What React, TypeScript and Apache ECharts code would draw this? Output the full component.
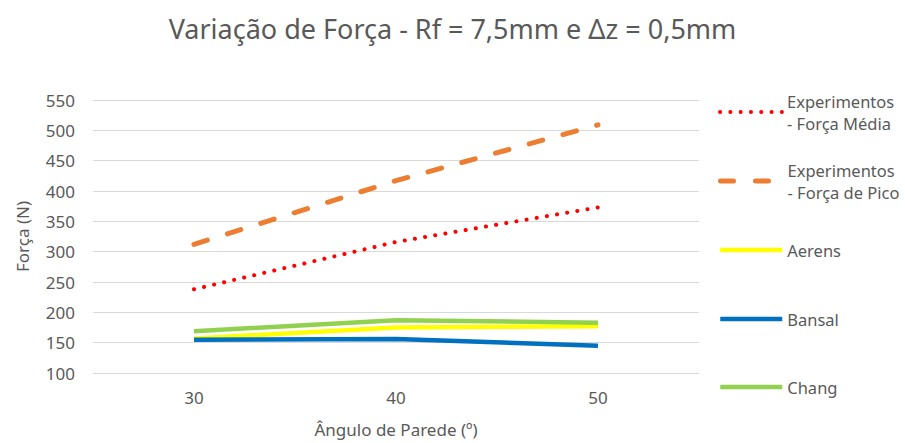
import React, { useEffect, useRef } from "react";
import * as echarts from "echarts";

// Wall angle categories (degrees)
const angles = ["30", "40", "50"];

// Force values (N) per model / experiment
const forcaMedia = [238, 316, 373];
const forcaPico = [312, 417, 509];
const aerens = [157, 175, 177];
const bansal = [155, 156, 145];
const chang = [169, 187, 183];

const seriesNames = [
  "Experimentos\n- Força Média",
  "Experimentos\n- Força de Pico",
  "Aerens",
  "Bansal",
  "Chang",
];

const FONT = "Noto Sans";
const GREY = "#595959";

// Line styling for each series: colour, width, dash pattern, cap
const styles: { color: string; width: number; type: any; cap: any }[] = [
  { color: "#FF0000", width: 4, type: [0.1, 10.2], cap: "round" },
  { color: "#ED7D31", width: 5, type: [14, 21], cap: "round" },
  { color: "#FFFF00", width: 4.5, type: "solid", cap: "butt" },
  { color: "#0070C0", width: 4.5, type: "solid", cap: "butt" },
  { color: "#92D050", width: 4.5, type: "solid", cap: "butt" },
];

export default function App() {
  const ref = useRef<HTMLDivElement>(null);

  useEffect(() => {
    if (!ref.current) return;
    document.body.style.margin = "0";
    const chart = echarts.init(ref.current, undefined, { renderer: "svg" });

    const legendCenters = [112, 181, 250, 319, 387];
    const legends = seriesNames.map((name, i) => {
      const twoLines = name.includes("\n");
      const s = styles[i];
      return {
        data: [name],
        left: 718,
        top: twoLines ? legendCenters[i] - 33 : legendCenters[i] - 11,
        padding: 0,
        itemWidth: 62,
        itemHeight: 14,
        selectedMode: false,
        itemStyle: { opacity: 0 },
        lineStyle: {
          color: s.color,
          width: s.width,
          type: i === 1 ? [13, 22] : s.type,
          cap: s.cap,
        },
        textStyle: {
          fontFamily: FONT,
          fontSize: 16.5,
          color: GREY,
          lineHeight: 22,
          padding: twoLines ? [22, 0, 0, 0] : 0,
        },
      };
    });

    chart.setOption({
      animation: false,
      title: {
        text: "Variação de Força - Rf = 7,5mm e Δz = 0,5mm",
        left: "center",
        top: 10,
        textStyle: { fontFamily: FONT, fontSize: 27, fontWeight: "normal", color: GREY },
      },
      legend: legends,
      grid: { left: 93, right: 206, top: 100, bottom: 68 },
      xAxis: {
        type: "category",
        data: angles,
        boundaryGap: true,
        name: "Ângulo de Parede (º)",
        nameLocation: "middle",
        nameGap: 48,
        nameTextStyle: { fontFamily: FONT, fontSize: 17, color: GREY },
        axisLine: { show: false },
        axisTick: { show: false },
        axisLabel: { fontFamily: FONT, fontSize: 17, color: GREY, margin: 16 },
      },
      yAxis: {
        type: "value",
        min: 100,
        max: 550,
        interval: 50,
        name: "Força (N)",
        nameLocation: "middle",
        nameGap: 62,
        nameTextStyle: { fontFamily: FONT, fontSize: 17, color: GREY },
        axisLine: { show: false },
        axisTick: { show: false },
        axisLabel: { fontFamily: FONT, fontSize: 17, color: GREY, margin: 18 },
        splitLine: { lineStyle: { color: "#d9d9d9", width: 1 } },
      },
      series: [forcaMedia, forcaPico, aerens, bansal, chang].map((data, i) => ({
        name: seriesNames[i],
        type: "line",
        data,
        symbol: "none",
        color: styles[i].color,
        lineStyle: { ...styles[i] },
      })),
    });

    return () => chart.dispose();
  }, []);

  return <div ref={ref} style={{ width: 905, height: 443 }} />;
}
